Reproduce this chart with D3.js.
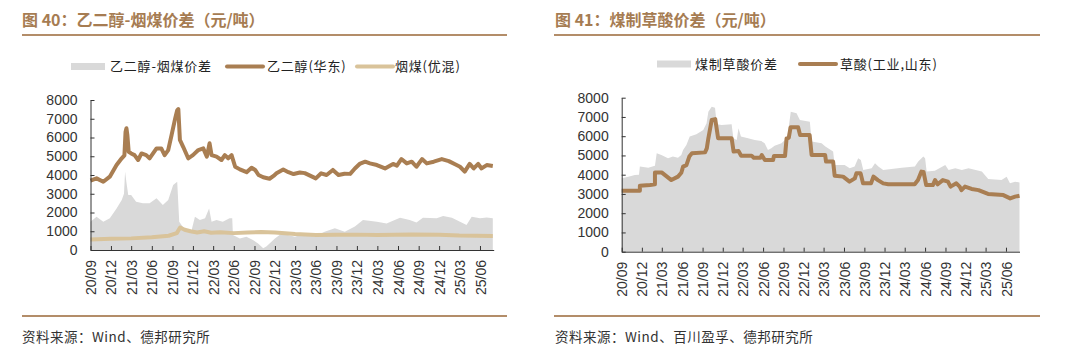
<!DOCTYPE html>
<html><head><meta charset="utf-8">
<script src="https://cdn.jsdelivr.net/npm/d3@7"></script>
<style>
body{margin:0;background:#fff;}
svg text{font-family:"Liberation Sans",Arial,"Noto Sans CJK SC",sans-serif;}
.cjk{font-family:"Noto Sans CJK SC","Liberation Sans",sans-serif !important;}
</style></head><body>
<svg id="c" width="1080" height="357"></svg>
<script>
// ---------- DATA ----------
const xTickLabels = ["20/09","20/12","21/03","21/06","21/09","21/12","22/03","22/06","22/09","22/12","23/03","23/06","23/09","23/12","24/03","24/06","24/09","24/12","25/03","25/06"];
const yTicks = [0,1000,2000,3000,4000,5000,6000,7000,8000];

// Fig 40: ethylene glycol - coal spread (area)
const egSpread = [["2020-09-01",1510],["2020-09-28",1770],["2020-10-28",1510],["2020-11-26",1690],["2020-12-26",2220],["2021-01-18",2670],["2021-01-28",3000],["2021-02-02",4180],["2021-02-08",3600],["2021-02-16",2930],["2021-03-01",2930],["2021-03-23",2580],["2021-04-22",2490],["2021-05-22",2490],["2021-06-22",2760],["2021-07-20",2400],["2021-08-13",2670],["2021-09-04",3470],["2021-09-22",3640],["2021-10-01",1510],["2021-10-11",1330],["2021-11-04",960],["2021-11-25",1050],["2021-12-10",1780],["2022-01-01",1600],["2022-01-24",1690],["2022-02-11",2220],["2022-02-22",1510],["2022-03-16",1600],["2022-04-13",1510],["2022-05-13",1690],["2022-05-25",1690],["2022-05-28",800],["2022-06-28",620],["2022-07-27",710],["2022-08-25",530],["2022-09-17",350],["2022-10-10",90],["2022-10-25",200],["2022-12-01",620],["2023-01-01",890],["2023-01-28",800],["2023-02-28",710],["2023-04-13",890],["2023-05-27",710],["2023-07-10",980],["2023-08-25",1160],["2023-10-08",980],["2023-11-22",1250],["2023-12-28",1600],["2024-02-28",1510],["2024-04-11",1420],["2024-06-10",1720],["2024-07-23",1600],["2024-08-22",1470],["2024-09-20",1720],["2024-11-20",1690],["2024-12-19",1810],["2025-01-27",1720],["2025-03-04",1510],["2025-04-02",1330],["2025-04-25",1780],["2025-06-01",1690],["2025-07-01",1740],["2025-07-28",1690]];

// Fig 40: ethylene glycol (East China)
const egPrice = [["2020-09-01",3700],["2020-09-28",3820],["2020-10-28",3640],["2020-11-26",3910],["2020-12-26",4530],["2021-01-18",4890],["2021-01-30",5050],["2021-02-04",6300],["2021-02-08",6490],["2021-02-12",6150],["2021-02-18",5240],["2021-03-01",5150],["2021-03-16",5060],["2021-04-01",4800],["2021-04-16",5150],["2021-05-07",5060],["2021-05-22",4890],["2021-06-22",5420],["2021-07-13",5420],["2021-07-28",5060],["2021-08-13",5330],["2021-08-28",6130],["2021-09-13",7020],["2021-09-22",7450],["2021-09-27",7520],["2021-10-04",5870],["2021-10-19",5490],["2021-11-10",4890],["2021-12-01",5060],["2021-12-25",5330],["2022-01-16",5420],["2022-02-01",4980],["2022-02-13",5690],["2022-02-22",5060],["2022-03-16",4980],["2022-04-07",4800],["2022-04-22",5060],["2022-05-07",4890],["2022-05-22",5060],["2022-06-07",4440],["2022-06-28",4300],["2022-07-28",4150],["2022-08-19",4390],["2022-09-04",4270],["2022-09-19",4000],["2022-10-10",3880],["2022-11-07",3800],["2022-11-25",3950],["2022-12-08",4090],["2023-01-07",4290],["2023-01-30",4150],["2023-02-22",4050],["2023-03-22",4130],["2023-04-13",4100],["2023-05-04",3980],["2023-06-01",3820],["2023-06-25",4090],["2023-07-19",4000],["2023-08-16",4270],["2023-09-10",4000],["2023-10-07",4070],["2023-11-01",4060],["2023-11-22",4350],["2023-12-13",4590],["2024-01-07",4710],["2024-01-28",4620],["2024-02-28",4530],["2024-04-04",4350],["2024-05-10",4590],["2024-05-27",4500],["2024-06-16",4850],["2024-07-10",4620],["2024-08-01",4710],["2024-08-22",4440],["2024-09-16",4850],["2024-10-07",4620],["2024-11-07",4710],["2024-12-13",4850],["2025-01-13",4740],["2025-02-10",4570],["2025-03-04",4440],["2025-03-25",4180],["2025-04-16",4590],["2025-05-04",4350],["2025-05-24",4590],["2025-06-08",4350],["2025-07-01",4530],["2025-07-28",4480]];

// Fig 40: bituminous coal (premium blend)
const coalPrice = [["2020-09-01",560],["2020-12-01",600],["2021-03-01",620],["2021-06-01",680],["2021-08-15",760],["2021-09-20",900],["2021-10-05",1200],["2021-10-25",1080],["2021-11-20",1000],["2021-12-20",930],["2022-01-20",1000],["2022-02-20",920],["2022-04-01",950],["2022-06-01",900],["2022-08-01",930],["2022-10-01",960],["2022-12-01",930],["2023-03-01",850],["2023-06-01",800],["2023-09-01",810],["2023-12-01",820],["2024-03-01",800],["2024-08-01",830],["2024-12-01",810],["2025-03-01",770],["2025-07-28",750]];

// Fig 41: coal-to-oxalic-acid spread (area)
const oxSpread = [["2020-09-01",3810],["2020-10-01",3900],["2020-10-30",3980],["2020-11-18",4000],["2020-11-22",4420],["2020-12-30",4360],["2021-01-29",4470],["2021-02-06",5110],["2021-02-27",5020],["2021-03-29",4850],["2021-04-20",4940],["2021-05-13",4880],["2021-05-28",5020],["2021-06-05",5280],["2021-06-20",5540],["2021-07-05",5980],["2021-08-04",6100],["2021-09-04",6320],["2021-09-19",6670],["2021-09-27",7270],["2021-10-12",7530],["2021-10-27",7480],["2021-11-04",6620],["2021-11-26",6580],["2022-01-10",6620],["2022-01-18",5890],["2022-02-02",5800],["2022-02-10",6410],["2022-02-21",5980],["2022-03-25",5890],["2022-04-24",5800],["2022-05-24",5750],["2022-06-08",5630],["2022-06-23",5280],["2022-07-08",5370],["2022-07-23",5510],["2022-08-23",5630],["2022-09-15",5890],["2022-09-22",6240],["2022-10-04",7270],["2022-10-30",7190],["2022-11-14",6840],["2022-12-29",6750],["2023-01-06",5720],["2023-02-20",5630],["2023-03-09",5460],["2023-04-13",5200],["2023-04-20",4500],["2023-06-04",4500],["2023-06-27",4330],["2023-07-19",4420],["2023-08-04",4850],["2023-08-16",4760],["2023-08-27",4240],["2023-10-04",4330],["2023-10-19",4590],["2023-11-03",4420],["2023-11-25",4240],["2024-02-17",4360],["2024-04-16",4420],["2024-05-01",4680],["2024-05-24",4940],["2024-06-01",4850],["2024-06-08",4160],["2024-07-15",4200],["2024-08-31",4500],["2024-09-15",4240],["2024-10-15",4330],["2024-11-14",4240],["2024-12-14",4330],["2025-02-12",4160],["2025-03-13",3780],["2025-05-12",3720],["2025-06-04",3900],["2025-06-19",3550],["2025-07-12",3640],["2025-08-01",3600]];

// Fig 41: oxalic acid (industrial, Shandong)
const oxPrice = [["2020-09-01",3170],["2020-11-22",3170],["2020-11-22",3430],["2021-01-07",3470],["2021-01-29",3500],["2021-01-29",4120],["2021-02-28",4120],["2021-04-13",3720],["2021-05-13",3900],["2021-05-28",4100],["2021-06-05",4420],["2021-06-20",4500],["2021-07-03",4940],["2021-07-15",5110],["2021-09-12",5160],["2021-09-20",5370],["2021-09-27",5890],["2021-10-12",6840],["2021-10-28",6890],["2021-11-10",5890],["2022-01-10",5890],["2022-01-19",5200],["2022-02-10",5230],["2022-02-22",4990],["2022-04-10",4990],["2022-04-20",4880],["2022-05-20",4880],["2022-05-26",5020],["2022-06-09",4760],["2022-07-16",4760],["2022-07-20",4970],["2022-09-08",4970],["2022-09-15",5890],["2022-09-25",5920],["2022-10-03",6460],["2022-11-06",6460],["2022-11-15",6060],["2022-12-28",6060],["2023-01-06",5020],["2023-03-08",5020],["2023-03-12",4680],["2023-04-13",4680],["2023-04-20",3950],["2023-05-28",3900],["2023-06-26",3640],["2023-07-20",3810],["2023-07-27",4070],["2023-08-15",4070],["2023-08-26",3550],["2023-10-01",3550],["2023-10-12",3900],["2023-11-01",3720],["2023-11-25",3550],["2023-12-18",3500],["2024-04-15",3500],["2024-04-30",3720],["2024-05-15",4160],["2024-05-25",4140],["2024-06-06",3460],["2024-07-06",3460],["2024-07-16",3720],["2024-07-28",3500],["2024-08-20",3720],["2024-09-12",3640],["2024-09-24",3380],["2024-10-20",3550],["2024-11-04",3380],["2024-11-12",3200],["2024-11-28",3380],["2024-12-28",3260],["2025-01-28",3200],["2025-03-12",3000],["2025-05-20",2940],["2025-06-20",2770],["2025-07-12",2860],["2025-08-01",2910]];

const titles = ["图 40：乙二醇-烟煤价差（元/吨）","图 41：煤制草酸价差（元/吨）"];
const sources = ["资料来源：Wind、德邦研究所","资料来源：Wind、百川盈孚、德邦研究所"];
const legend1 = ["乙二醇-烟煤价差","乙二醇(华东)","烟煤(优混)"];
const legend2 = ["煤制草酸价差","草酸(工业,山东)"];

// ---------- STYLE ----------
const C_BROWN = "#A97E52", C_TAN = "#D9C39A", C_GRAY = "#D9D9D9", C_TITLE = "#A67C52", C_RULE = "#B38D69";

const svg = d3.select("#c");
const parse = d3.timeParse("%Y-%m-%d");
const tickDates = xTickLabels.map(s => new Date(2000 + +s.slice(0,2), +s.slice(3) - 1, 1));
const toPts = arr => arr.map(d => ({date: parse(d[0]), value: d[1]}));

function panel(cfg) {
  const g = svg.append("g");
  g.append("text").attr("class","cjk").attr("x", cfg.titleX).attr("y", 26)
    .attr("font-size", 16).attr("font-weight", "bold").attr("fill", C_TITLE).text(cfg.title);
  g.append("line").attr("x1", cfg.ruleX0).attr("x2", cfg.ruleX1).attr("y1", 35).attr("y2", 35)
    .attr("stroke", C_RULE).attr("stroke-width", 2);
  g.append("line").attr("x1", cfg.ruleX0).attr("x2", cfg.ruleX1).attr("y1", 316).attr("y2", 316)
    .attr("stroke", C_RULE).attr("stroke-width", 2);
  g.append("text").attr("class","cjk").attr("x", cfg.titleX).attr("y", 342)
    .attr("font-size", 13.5).attr("fill", "#333").attr("letter-spacing", 0.5).text(cfg.source);

  const x = d3.scaleTime().domain([new Date(2020,8,1), new Date(2025,7,1)]).range(cfg.xr);
  const y = d3.scaleLinear().domain([0, 8000]).range(cfg.yr);

  const area = d3.area().x(d => x(d.date)).y0(y(0)).y1(d => y(d.value));
  g.append("path").datum(toPts(cfg.area)).attr("d", area).attr("fill", C_GRAY);

  const line = d3.line().x(d => x(d.date)).y(d => y(d.value));
  cfg.lines.forEach(l => {
    g.append("path").datum(toPts(l.data)).attr("d", line).attr("fill", "none")
      .attr("stroke", l.color).attr("stroke-width", 4).attr("stroke-linejoin", "round");
  });

  const ya = g.append("g").attr("transform", `translate(${cfg.xr[0]},0)`)
    .call(d3.axisLeft(y).tickValues(yTicks).tickSizeInner(-4).tickSizeOuter(0).tickPadding(13).tickFormat(d3.format("d")));
  ya.select(".domain").attr("stroke", "#333");
  ya.selectAll(".tick line").attr("stroke", "#333");
  ya.selectAll("text").attr("font-size", 14).attr("fill", "#333");

  const xa = g.append("g").attr("transform", `translate(0,${cfg.yr[0]})`)
    .call(d3.axisBottom(x).tickValues(tickDates).tickSizeInner(-4).tickSizeOuter(0)
      .tickFormat((d, i) => xTickLabels[i]));
  xa.select(".domain").attr("stroke", "#333");
  xa.selectAll(".tick line").attr("stroke", "#333");
  xa.selectAll("text").attr("font-size", 14).attr("fill", "#333")
    .attr("transform", "rotate(-90)").attr("text-anchor", "end")
    .attr("x", -10).attr("y", 0).attr("dy", "0.36em");

  const lg = g.append("g");
  cfg.legend.forEach(it => {
    if (it.type === "rect") {
      lg.append("rect").attr("x", it.x).attr("y", cfg.legY - 3.5).attr("width", 34).attr("height", 7).attr("fill", it.color);
    } else {
      lg.append("line").attr("x1", it.x).attr("x2", it.x + 36).attr("y1", cfg.legY).attr("y2", cfg.legY)
        .attr("stroke", it.color).attr("stroke-width", 4).attr("stroke-linecap", "round");
    }
    lg.append("text").attr("class","cjk").attr("x", it.tx).attr("y", cfg.legY).attr("dy", "0.35em")
      .attr("font-size", 13).attr("letter-spacing", 0.8).attr("fill", "#222").text(it.label);
  });
}

panel({
  title: titles[0], source: sources[0], titleX: 22, ruleX0: 22, ruleX1: 507,
  xr: [90.5, 493.7], yr: [250, 100],
  area: egSpread,
  lines: [{data: egPrice, color: C_BROWN}, {data: coalPrice, color: C_TAN}],
  legY: 66.5,
  legend: [
    {type: "rect", x: 71, tx: 110, color: C_GRAY, label: legend1[0]},
    {type: "line", x: 227, tx: 267, color: C_BROWN, label: legend1[1]},
    {type: "line", x: 357, tx: 395, color: C_TAN, label: legend1[2]}
  ]
});

panel({
  title: titles[1], source: sources[1], titleX: 555, ruleX0: 554, ruleX1: 1040,
  xr: [621.7, 1019.5], yr: [251.7, 97.7],
  area: oxSpread,
  lines: [{data: oxPrice, color: C_BROWN}],
  legY: 64,
  legend: [
    {type: "rect", x: 657, tx: 695, color: C_GRAY, label: legend2[0]},
    {type: "line", x: 800, tx: 840, color: C_BROWN, label: legend2[1]}
  ]
});
</script>
</body></html>
